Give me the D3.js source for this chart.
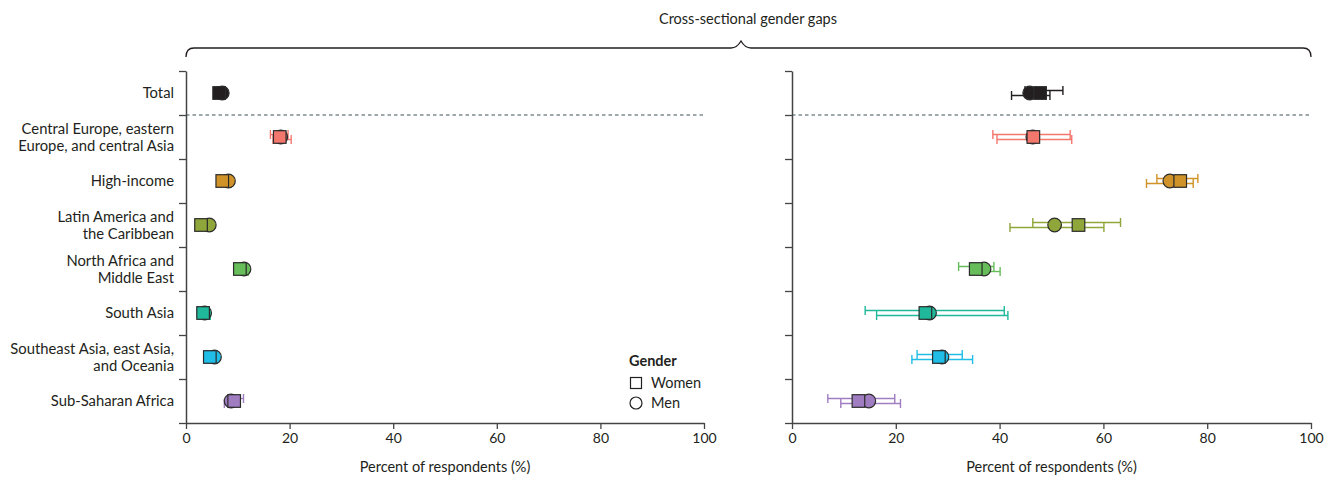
<!DOCTYPE html>
<html>
<head>
<meta charset="utf-8">
<script src="https://cdn.jsdelivr.net/npm/d3@7"></script>
<style>
  body { margin: 0; background: #fff; }
  text { font-family: Lato, "Noto Sans", sans-serif; fill: #231f20; }
</style>
</head>
<body>
<div id="chart"></div>
<script>
// regions, top to bottom
const categories = ['Total', 'Central Europe, eastern Europe, and central Asia', 'High-income',
  'Latin America and the Caribbean', 'North Africa and Middle East', 'South Asia',
  'Southeast Asia, east Asia, and Oceania', 'Sub-Saharan Africa'];
const labelLines = [['Total'], ['Central Europe, eastern', 'Europe, and central Asia'], ['High-income'],
  ['Latin America and', 'the Caribbean'], ['North Africa and', 'Middle East'], ['South Asia'],
  ['Southeast Asia, east Asia,', 'and Oceania'], ['Sub-Saharan Africa']];
const colors = ['#231f20', '#f4776e', '#d09329', '#8ea63a', '#66bd5a', '#20b89b', '#20bde6', '#a07cc0'];

// left panel
const leftWomen   = [6.4, 18.1, 7.0, 2.9, 10.4, 3.3, 4.6, 9.3];
const leftWomenLo = [6.1, 16.3, 6.5, 2.5, 9.7, 2.2, 4.1, 8.2];
const leftWomenHi = [6.7, 19.7, 7.5, 3.3, 11.2, 4.4, 5.1, 11.1];
const leftMen     = [7.0, 18.3, 8.2, 4.5, 11.2, 3.6, 5.5, 8.7];
const leftMenLo   = [6.7, 16.8, 7.7, 4.1, 10.5, 2.6, 5.0, 7.4];
const leftMenHi   = [7.3, 20.3, 8.7, 4.9, 12.0, 4.7, 6.0, 10.1];

// right panel
const rightWomen   = [47.8, 46.5, 74.8, 55.2, 35.4, 25.7, 28.3, 12.8];
const rightWomenLo = [44.9, 38.7, 70.3, 46.4, 32.1, 14.1, 24.1, 6.9];
const rightWomenHi = [52.2, 53.6, 78.2, 63.3, 38.9, 40.9, 32.8, 19.8];
const rightMen     = [45.8, 46.4, 72.8, 50.6, 37.0, 26.5, 28.9, 14.8];
const rightMenLo   = [42.3, 39.5, 68.3, 42.0, 34.3, 16.3, 23.1, 9.4];
const rightMenHi   = [49.7, 53.9, 77.3, 60.1, 40.1, 41.6, 34.8, 20.9];

const xTicks = [0, 20, 40, 60, 80, 100];

const width = 1341;
const height = 481;
const plotTop = 71, plotBottom = 423;

const svg = d3.select('#chart')
  .append('svg')
  .attr('width', width)
  .attr('height', height);

const yEdge = d3.scaleLinear().domain([0, categories.length]).range([plotTop, plotBottom]);
const y = d3.scaleBand().domain(categories).range([plotTop, plotBottom]);

function panel(x0, x1, women, womenLo, womenHi, men, menLo, menHi) {
  const x = d3.scaleLinear().domain([0, 100]).range([x0, x1]);
  const g = svg.append('g');

  // x axis
  const xa = g.append('g')
    .attr('transform', `translate(0,${plotBottom})`)
    .call(d3.axisBottom(x).tickValues(xTicks).tickSize(6).tickSizeOuter(0).tickPadding(4));
  xa.select('.domain').attr('stroke', '#444').attr('stroke-width', 1.3);
  xa.selectAll('.tick line').attr('stroke', '#444').attr('stroke-width', 1.3);
  xa.selectAll('.tick text').attr('font-size', '14px').attr('fill', '#231f20')
    .style('font-family', 'Lato, sans-serif');

  g.append('text')
    .attr('x', (x0 + x1) / 2)
    .attr('y', 472)
    .attr('text-anchor', 'middle')
    .attr('font-size', '14.5px')
    .text('Percent of respondents (%)');

  // y axis, ticks on the band edges
  const ya = g.append('g')
    .attr('transform', `translate(${x0},0)`)
    .call(d3.axisLeft(yEdge).ticks(categories.length).tickFormat('').tickSize(7).tickSizeOuter(0));
  ya.select('.domain').attr('stroke', '#444').attr('stroke-width', 1.5);
  ya.selectAll('.tick line').attr('stroke', '#444').attr('stroke-width', 1.3);

  // dashed separator under Total
  g.append('line')
    .attr('x1', x0).attr('x2', x1)
    .attr('y1', yEdge(1)).attr('y2', yEdge(1))
    .attr('stroke', '#3f5358')
    .attr('stroke-width', 1.1)
    .attr('stroke-dasharray', '3.5,3');

  const cy = i => y(categories[i]) + y.bandwidth() / 2;

  // error bars: women slightly above, men slightly below
  function bars(lo, hi, dy) {
    const eb = g.append('g').selectAll('g')
      .data(categories)
      .join('g')
      .attr('stroke', (d, i) => colors[i])
      .attr('stroke-width', 1.4)
      .attr('fill', 'none');
    eb.append('line')
      .attr('x1', (d, i) => x(lo[i])).attr('x2', (d, i) => x(hi[i]))
      .attr('y1', (d, i) => cy(i) + dy).attr('y2', (d, i) => cy(i) + dy);
    eb.append('line')
      .attr('x1', (d, i) => x(lo[i])).attr('x2', (d, i) => x(lo[i]))
      .attr('y1', (d, i) => cy(i) + dy - 4.5).attr('y2', (d, i) => cy(i) + dy + 4.5);
    eb.append('line')
      .attr('x1', (d, i) => x(hi[i])).attr('x2', (d, i) => x(hi[i]))
      .attr('y1', (d, i) => cy(i) + dy - 4.5).attr('y2', (d, i) => cy(i) + dy + 4.5);
  }
  bars(womenLo, womenHi, -2.5);
  bars(menLo, menHi, 2.5);

  // men: circles
  g.append('g').selectAll('circle')
    .data(men)
    .join('circle')
    .attr('cx', d => x(d))
    .attr('cy', (d, i) => cy(i))
    .attr('r', 6.8)
    .attr('fill', (d, i) => colors[i])
    .attr('stroke', '#2b2b2b')
    .attr('stroke-width', 1.2);

  // women: squares
  g.append('g').selectAll('rect')
    .data(women)
    .join('rect')
    .attr('x', d => x(d) - 6.3)
    .attr('y', (d, i) => cy(i) - 6.3)
    .attr('width', 12.6)
    .attr('height', 12.6)
    .attr('fill', (d, i) => colors[i])
    .attr('stroke', '#2b2b2b')
    .attr('stroke-width', 1.2);
}

panel(186, 704, leftWomen, leftWomenLo, leftWomenHi, leftMen, leftMenLo, leftMenHi);
panel(792, 1311, rightWomen, rightWomenLo, rightWomenHi, rightMen, rightMenLo, rightMenHi);

// category labels
const lab = svg.append('g').selectAll('text')
  .data(labelLines)
  .join('text')
  .attr('text-anchor', 'end')
  .attr('font-size', '14.8px')
  .attr('x', 174)
  .attr('y', (d, i) => y(categories[i]) + y.bandwidth() / 2 + 5 - (d.length - 1) * 8.5);
lab.selectAll('tspan')
  .data(d => d)
  .join('tspan')
  .attr('x', 174)
  .attr('dy', (d, j) => j === 0 ? 0 : 17)
  .text(d => d);

// title and brace
svg.append('text')
  .attr('x', 748)
  .attr('y', 24)
  .attr('text-anchor', 'middle')
  .attr('font-size', '14.5px')
  .text('Cross-sectional gender gaps');

svg.append('path')
  .attr('d', 'M186,57 Q186,48 194,48 L731,48 Q737,48 741,41 Q745,48 751,48 L1303,48 Q1311,48 1311,57')
  .attr('fill', 'none')
  .attr('stroke', '#231f20')
  .attr('stroke-width', 1.3);

// legend
const legend = svg.append('g').attr('transform', 'translate(629,0)');
legend.append('text').attr('x', 0).attr('y', 366)
  .attr('font-size', '14.5px').attr('font-weight', 'bold').text('Gender');
legend.append('rect').attr('x', 1.5).attr('y', 377.5).attr('width', 11).attr('height', 11)
  .attr('fill', 'none').attr('stroke', '#231f20').attr('stroke-width', 1.2);
legend.append('text').attr('x', 22).attr('y', 388).attr('font-size', '14.5px').text('Women');
legend.append('circle').attr('cx', 7).attr('cy', 403).attr('r', 6)
  .attr('fill', 'none').attr('stroke', '#231f20').attr('stroke-width', 1.2);
legend.append('text').attr('x', 22).attr('y', 408).attr('font-size', '14.5px').text('Men');
</script>
</body>
</html>
